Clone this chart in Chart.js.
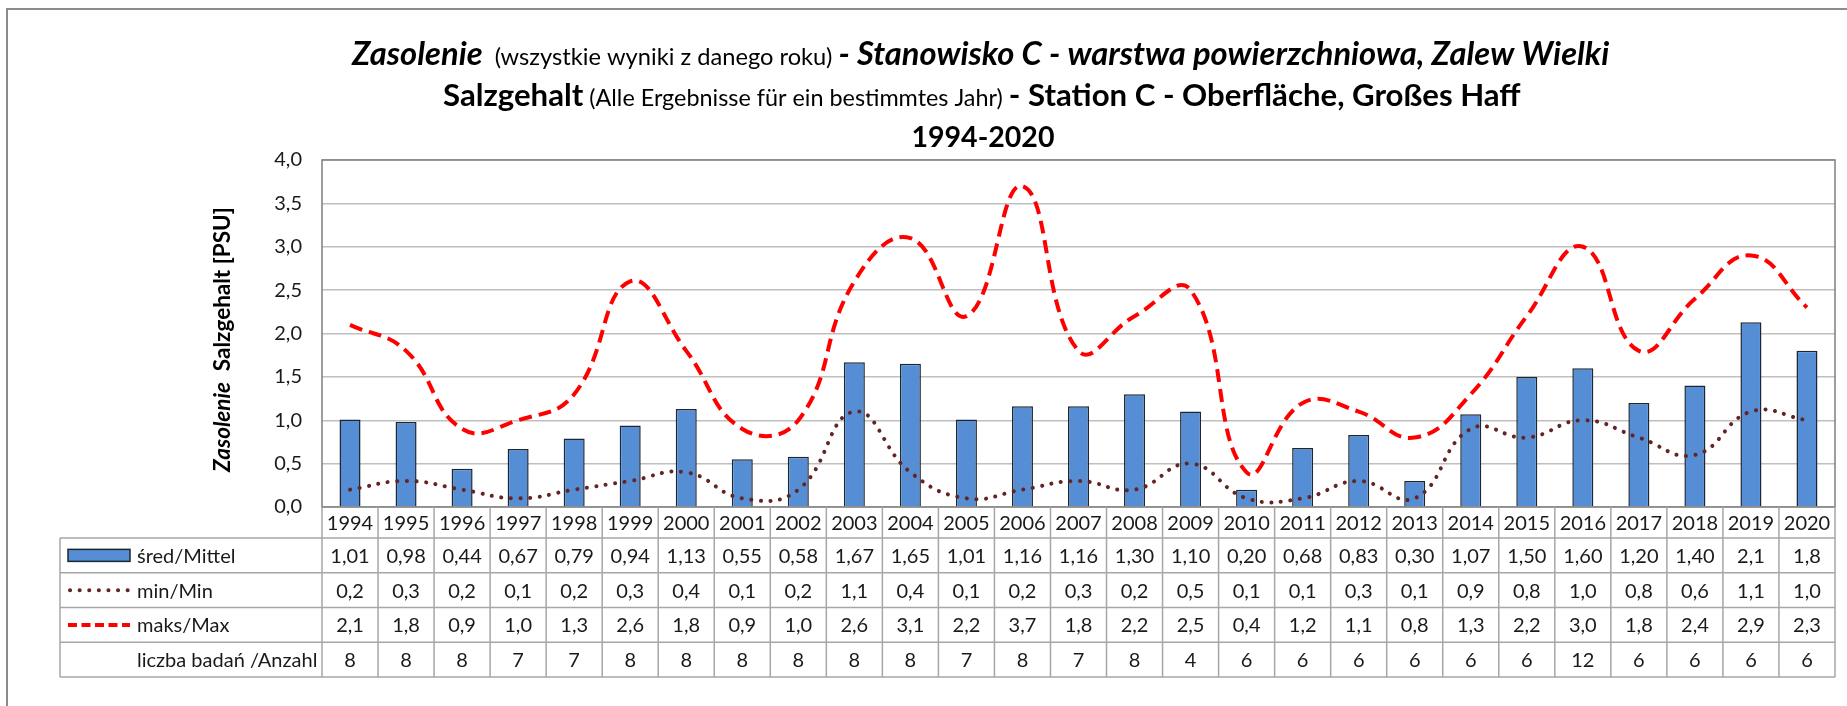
<!DOCTYPE html>
<html>
<head>
<meta charset="utf-8">
<script src="https://cdn.jsdelivr.net/npm/chart.js@4.4.1/dist/chart.umd.min.js"></script>
<style>
  html, body { margin: 0; padding: 0; background: #fff; overflow: hidden; }
  canvas { display: block; }
</style>
</head>
<body>
<canvas id="salinityChart" width="1847" height="706"></canvas>
<script>
const YEARS = [
  "1994", "1995", "1996", "1997", "1998", "1999", "2000", "2001", "2002",
  "2003", "2004", "2005", "2006", "2007", "2008", "2009", "2010", "2011",
  "2012", "2013", "2014", "2015", "2016", "2017", "2018", "2019", "2020",
];
const MEAN_VALUES = [
  1.01, 0.98, 0.44, 0.67, 0.79, 0.94, 1.13, 0.55, 0.58,
  1.67, 1.65, 1.01, 1.16, 1.16, 1.30, 1.10, 0.20, 0.68,
  0.83, 0.30, 1.07, 1.50, 1.60, 1.20, 1.40, 2.13, 1.80,
];
const MIN_VALUES = [
  0.2, 0.3, 0.2, 0.1, 0.2, 0.3, 0.4, 0.1, 0.2,
  1.1, 0.4, 0.1, 0.2, 0.3, 0.2, 0.5, 0.1, 0.1,
  0.3, 0.1, 0.9, 0.8, 1.0, 0.8, 0.6, 1.1, 1.0,
];
const MAX_VALUES = [
  2.1, 1.8, 0.9, 1.0, 1.3, 2.6, 1.8, 0.9, 1.0,
  2.6, 3.1, 2.2, 3.7, 1.8, 2.2, 2.5, 0.4, 1.2,
  1.1, 0.8, 1.3, 2.2, 3.0, 1.8, 2.4, 2.9, 2.3,
];
const COUNTS = [
  8, 8, 8, 7, 7, 8, 8, 8, 8,
  8, 8, 7, 8, 7, 8, 4, 6, 6,
  6, 6, 6, 6, 12, 6, 6, 6, 6,
];
// last two years are printed with one decimal in the table
const MEAN_DECIMALS = YEARS.map((y) => (Number(y) >= 2019 ? 1 : 2));

const LABEL_MEAN = "śred/Mittel";
const LABEL_MIN = "min/Min";
const LABEL_MAX = "maks/Max";
const LABEL_COUNT = "liczba badań /Anzahl";

const TITLE_LINE_1 = [
  { text: "Zasolenie", style: "italic bold", size: 29 },
  { text: "  (wszystkie wyniki z danego roku) ", style: "normal", size: 21 },
  { text: "- Stanowisko C - warstwa powierzchniowa, Zalew Wielki", style: "italic bold", size: 29 },
];
const TITLE_LINE_2 = [
  { text: "Salzgehalt", style: "bold", size: 28 },
  { text: " (Alle Ergebnisse für ein bestimmtes Jahr) ", style: "normal", size: 21 },
  { text: "- Station C - Oberfläche, Großes Haff", style: "bold", size: 28 },
];
const TITLE_LINE_3 = [{ text: "1994-2020", style: "bold", size: 28 }];
const Y_TITLE = [
  { text: "Zasolenie", style: "italic bold", size: 19 },
  { text: "  Salzgehalt [PSU]", style: "bold", size: 19 },
];

// --- Styles ---
const FONT = "Lato, 'Open Sans', sans-serif";
const BAR_COLOR = "#558ed5";
const BAR_BORDER = "#1d2733";
const MIN_COLOR = "#632523";
const MAX_COLOR = "#ff0000";
const GRID_COLOR = "#bfbfbf";
const TABLE_LINE = "#a6a6a6";
const TEXT_COLOR = "#1a1a1a";

const TABLE_LEFT = 60;
const YEAR_ROW_H = 31;
const ROW_H = 34.75;

function fmt(v, d) {
  return Number(v).toFixed(d).replace(".", ",");
}

function drawRuns(ctx, runs, cx, y, targetWidth) {
  let total = 0;
  runs.forEach((r) => {
    ctx.font = `${r.style} ${r.size}px ${FONT}`;
    total += ctx.measureText(r.text).width;
  });
  const k = targetWidth ? targetWidth / total : 1;
  let x = cx - (total * k) / 2;
  ctx.textAlign = "left";
  ctx.textBaseline = "alphabetic";
  runs.forEach((r) => {
    ctx.font = `${r.style} ${r.size * k}px ${FONT}`;
    ctx.fillText(r.text, x, y);
    x += ctx.measureText(r.text).width;
  });
}

const excelPlugin = {
  id: "excelTable",
  beforeDraw(chart) {
    const { ctx } = chart;
    ctx.save();
    ctx.fillStyle = "#fff";
    ctx.fillRect(0, 0, chart.width, chart.height);
    ctx.strokeStyle = "#8c8c8c";
    ctx.lineWidth = 2;
    ctx.strokeRect(7, 9, chart.width + 20, chart.height + 20);
    ctx.restore();
  },
  beforeDatasetsDraw(chart) {
    const { ctx, chartArea: a } = chart;
    ctx.save();
    ctx.strokeStyle = "#7f7f7f";
    ctx.lineWidth = 1.5;
    ctx.strokeRect(a.left, a.top, a.right - a.left, a.bottom - a.top);
    ctx.restore();
  },
  afterDraw(chart) {
    const { ctx, chartArea: a } = chart;
    const xs = chart.scales.x;
    const step = xs.getPixelForValue(1) - xs.getPixelForValue(0);
    ctx.save();
    ctx.fillStyle = "#000";

    // titles
    drawRuns(ctx, TITLE_LINE_1, 981, 65, 1258);
    drawRuns(ctx, TITLE_LINE_2, 982, 106, 1078);
    drawRuns(ctx, TITLE_LINE_3, 983, 147, 143);

    // y axis title
    ctx.save();
    ctx.translate(230, (a.top + a.bottom) / 2 + 6);
    ctx.rotate(-Math.PI / 2);
    drawRuns(ctx, Y_TITLE, 0, 0, 265);
    ctx.restore();

    // data table geometry
    const yearTop = a.bottom;
    const tableTop = yearTop + YEAR_ROW_H;
    const rowTops = [0, 1, 2, 3, 4].map((i) => tableTop + i * ROW_H);
    const bottom = rowTops[4];

    ctx.strokeStyle = TABLE_LINE;
    ctx.lineWidth = 1.5;
    ctx.beginPath();
    for (let i = 0; i <= YEARS.length; i++) {
      const x = xs.getPixelForValue(i) - step / 2;
      ctx.moveTo(x, yearTop);
      ctx.lineTo(x, bottom);
    }
    rowTops.forEach((y) => {
      ctx.moveTo(TABLE_LEFT, y);
      ctx.lineTo(a.right, y);
    });
    ctx.moveTo(TABLE_LEFT, tableTop);
    ctx.lineTo(TABLE_LEFT, bottom);
    ctx.stroke();

    ctx.fillStyle = TEXT_COLOR;
    ctx.font = `20px ${FONT}`;
    ctx.textAlign = "center";
    ctx.textBaseline = "middle";
    const rowMid = (r) => rowTops[r] + ROW_H / 2;
    YEARS.forEach((y, i) => {
      const x = xs.getPixelForValue(i);
      ctx.fillText(y, x, yearTop + YEAR_ROW_H / 2 + 1);
      ctx.fillText(fmt(MEAN_VALUES[i], MEAN_DECIMALS[i]), x, rowMid(0) + 1);
      ctx.fillText(fmt(MIN_VALUES[i], 1), x, rowMid(1) + 1);
      ctx.fillText(fmt(MAX_VALUES[i], 1), x, rowMid(2) + 1);
      ctx.fillText(String(COUNTS[i]), x, rowMid(3) + 1);
    });

    // row labels with legend keys
    const keyL = 68, keyR = 130, textX = 137;
    ctx.textAlign = "left";
    ctx.fillText(LABEL_MEAN, textX, rowMid(0) + 1);
    ctx.fillText(LABEL_MIN, textX, rowMid(1) + 1);
    ctx.fillText(LABEL_MAX, textX, rowMid(2) + 1);
    ctx.fillText(LABEL_COUNT, textX, rowMid(3) + 1);

    ctx.fillStyle = BAR_COLOR;
    ctx.fillRect(keyL, rowMid(0) - 6, keyR - keyL, 12);
    ctx.strokeStyle = BAR_BORDER;
    ctx.lineWidth = 1.5;
    ctx.strokeRect(keyL, rowMid(0) - 6, keyR - keyL, 12);

    ctx.strokeStyle = MIN_COLOR;
    ctx.lineWidth = 4;
    ctx.lineCap = "round";
    ctx.setLineDash([0.1, 9.5]);
    ctx.beginPath();
    ctx.moveTo(keyL + 2, rowMid(1));
    ctx.lineTo(keyR, rowMid(1));
    ctx.stroke();

    ctx.strokeStyle = MAX_COLOR;
    ctx.lineCap = "butt";
    ctx.setLineDash([9, 4.5]);
    ctx.beginPath();
    ctx.moveTo(keyL, rowMid(2));
    ctx.lineTo(keyR, rowMid(2));
    ctx.stroke();

    ctx.restore();
  },
};

const ctx = document.getElementById("salinityChart").getContext("2d");
new Chart(ctx, {
  type: "bar",
  data: {
    labels: YEARS,
    datasets: [
      {
        type: "line",
        label: LABEL_MIN,
        data: MIN_VALUES,
        borderColor: MIN_COLOR,
        borderWidth: 4,
        borderDash: [0.1, 9.5],
        borderCapStyle: "round",
        pointRadius: 0,
        tension: 0.45,
        fill: false,
        order: 0,
      },
      {
        type: "line",
        label: LABEL_MAX,
        data: MAX_VALUES,
        borderColor: MAX_COLOR,
        borderWidth: 4,
        borderDash: [13, 7],
        pointRadius: 0,
        tension: 0.45,
        fill: false,
        order: 0,
      },
      {
        type: "bar",
        label: LABEL_MEAN,
        data: MEAN_VALUES,
        backgroundColor: BAR_COLOR,
        borderColor: BAR_BORDER,
        borderWidth: 1.5,
        barPercentage: 0.375,
        categoryPercentage: 1,
        order: 1,
      },
    ],
  },
  options: {
    responsive: false,
    animation: false,
    devicePixelRatio: 1,
    layout: { padding: { left: 262, right: 12, top: 160, bottom: 199 } },
    plugins: { legend: { display: false }, tooltip: { enabled: false } },
    scales: {
      x: {
        grid: { display: false, drawTicks: false },
        ticks: { display: false },
        border: { display: false },
      },
      y: {
        min: 0,
        max: 4,
        ticks: {
          stepSize: 0.5,
          padding: 20,
          color: TEXT_COLOR,
          font: { family: FONT, size: 20 },
          callback: (v) => fmt(v, 1),
        },
        grid: { color: GRID_COLOR, lineWidth: 1.5, drawTicks: false },
        border: { display: false },
        afterFit(scale) {
          scale.width = 60;
        },
      },
    },
  },
  plugins: [excelPlugin],
});
</script>
</body>
</html>
